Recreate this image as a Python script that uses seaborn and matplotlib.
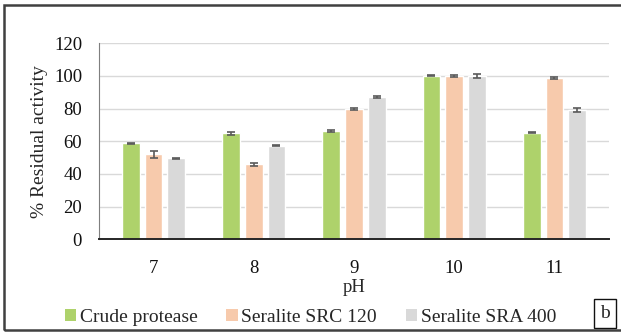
import matplotlib
matplotlib.use("Agg")
import matplotlib.pyplot as plt
from matplotlib.patches import Rectangle
import numpy as np
import pandas as pd
import seaborn as sns

# pH values tested and the three enzyme preparations
ph_levels = ["7", "8", "9", "10", "11"]
series_names = ["Crude protease", "Seralite SRC 120", "Seralite SRA 400"]

# % residual activity (mean) for each preparation
crude = [58.7, 64.8, 66.3, 100.0, 65.1]
src120 = [52.0, 45.9, 79.8, 100.0, 98.8]
sra400 = [49.5, 57.3, 87.1, 100.0, 79.2]

# standard deviations
crude_err = [0.5, 1.0, 0.5, 0.3, 0.3]
src120_err = [2.1, 0.8, 0.5, 0.8, 0.8]
sra400_err = [0.5, 0.5, 0.6, 1.2, 1.3]

colors = ["#AED26B", "#F7CAAC", "#D9D9D9"]

df = pd.DataFrame({
    "pH": ph_levels * 3,
    "series": np.repeat(series_names, len(ph_levels)),
    "value": crude + src120 + sra400,
    "err": crude_err + src120_err + sra400_err,
})

sns.set_style("white")
plt.rcParams["font.family"] = ["Liberation Serif", "DejaVu Serif"]
plt.rcParams["font.size"] = 13.5

W, H = 621, 332
fig = plt.figure(figsize=(W / 100, H / 100), dpi=100)
ax = fig.add_axes([0.159, 0.279, 0.822, 0.591])

sns.barplot(data=df, x="pH", y="value", hue="series", order=ph_levels,
            hue_order=series_names, palette=colors, width=0.68, gap=0.22,
            errorbar=None, saturation=1, ax=ax, zorder=2)

# error bars placed on the bars drawn by seaborn
for container, name in zip(ax.containers, series_names):
    sub = df[df["series"] == name].set_index("pH").loc[ph_levels]
    xs = [p.get_x() + p.get_width() / 2 for p in container.patches]
    ax.errorbar(xs, sub["value"].values, yerr=sub["err"].values, fmt="none",
                ecolor="#5A5A5A", elinewidth=1.2, capsize=2.8, capthick=1.2,
                zorder=3)

ax.set_ylim(0, 120)
ax.set_yticks(range(0, 121, 20))
ax.set_axisbelow(True)
ax.yaxis.grid(True, color="#D9D9D9", linewidth=1.0)
ax.xaxis.grid(False)

for side in ["top", "right"]:
    ax.spines[side].set_visible(False)
ax.spines["left"].set_color("#7F7F7F")
ax.spines["left"].set_linewidth(0.8)
ax.spines["bottom"].set_color("#262626")
ax.spines["bottom"].set_linewidth(1.4)

ax.tick_params(axis="y", length=0, pad=12, labelsize=13.5, colors="#111111")
ax.tick_params(axis="x", length=0, pad=15, labelsize=13.5, colors="#111111")
ax.set_xlabel("pH", fontsize=13.5, labelpad=1)
ax.set_ylabel("% Residual activity", fontsize=14, labelpad=4)

ax.legend_.remove()
handles = [Rectangle((0, 0), 1, 1, facecolor=c, edgecolor="none") for c in colors]
fig.legend(handles, series_names, loc="center", bbox_to_anchor=(0.5, 0.045),
           ncol=3, frameon=False, fontsize=14, handlelength=0.58,
           handleheight=0.58, handletextpad=0.18, columnspacing=1.5,
           borderpad=0)

# panel letter in a small box
fig.patches.append(Rectangle((594 / W, 1 - 328 / H), 22 / W, 29 / H,
                             transform=fig.transFigure, fill=False,
                             edgecolor="#111111", linewidth=1.0))
fig.text(605 / W, 1 - 313 / H, "b", ha="center", va="center", fontsize=14)

# outer frame
fig.patches.append(Rectangle((4 / W, 2 / H), 1.1, 1 - 7 / H,
                             transform=fig.transFigure, fill=False,
                             edgecolor="#404040", linewidth=1.8,
                             clip_on=False))

fig.savefig("out.png", dpi=100)
